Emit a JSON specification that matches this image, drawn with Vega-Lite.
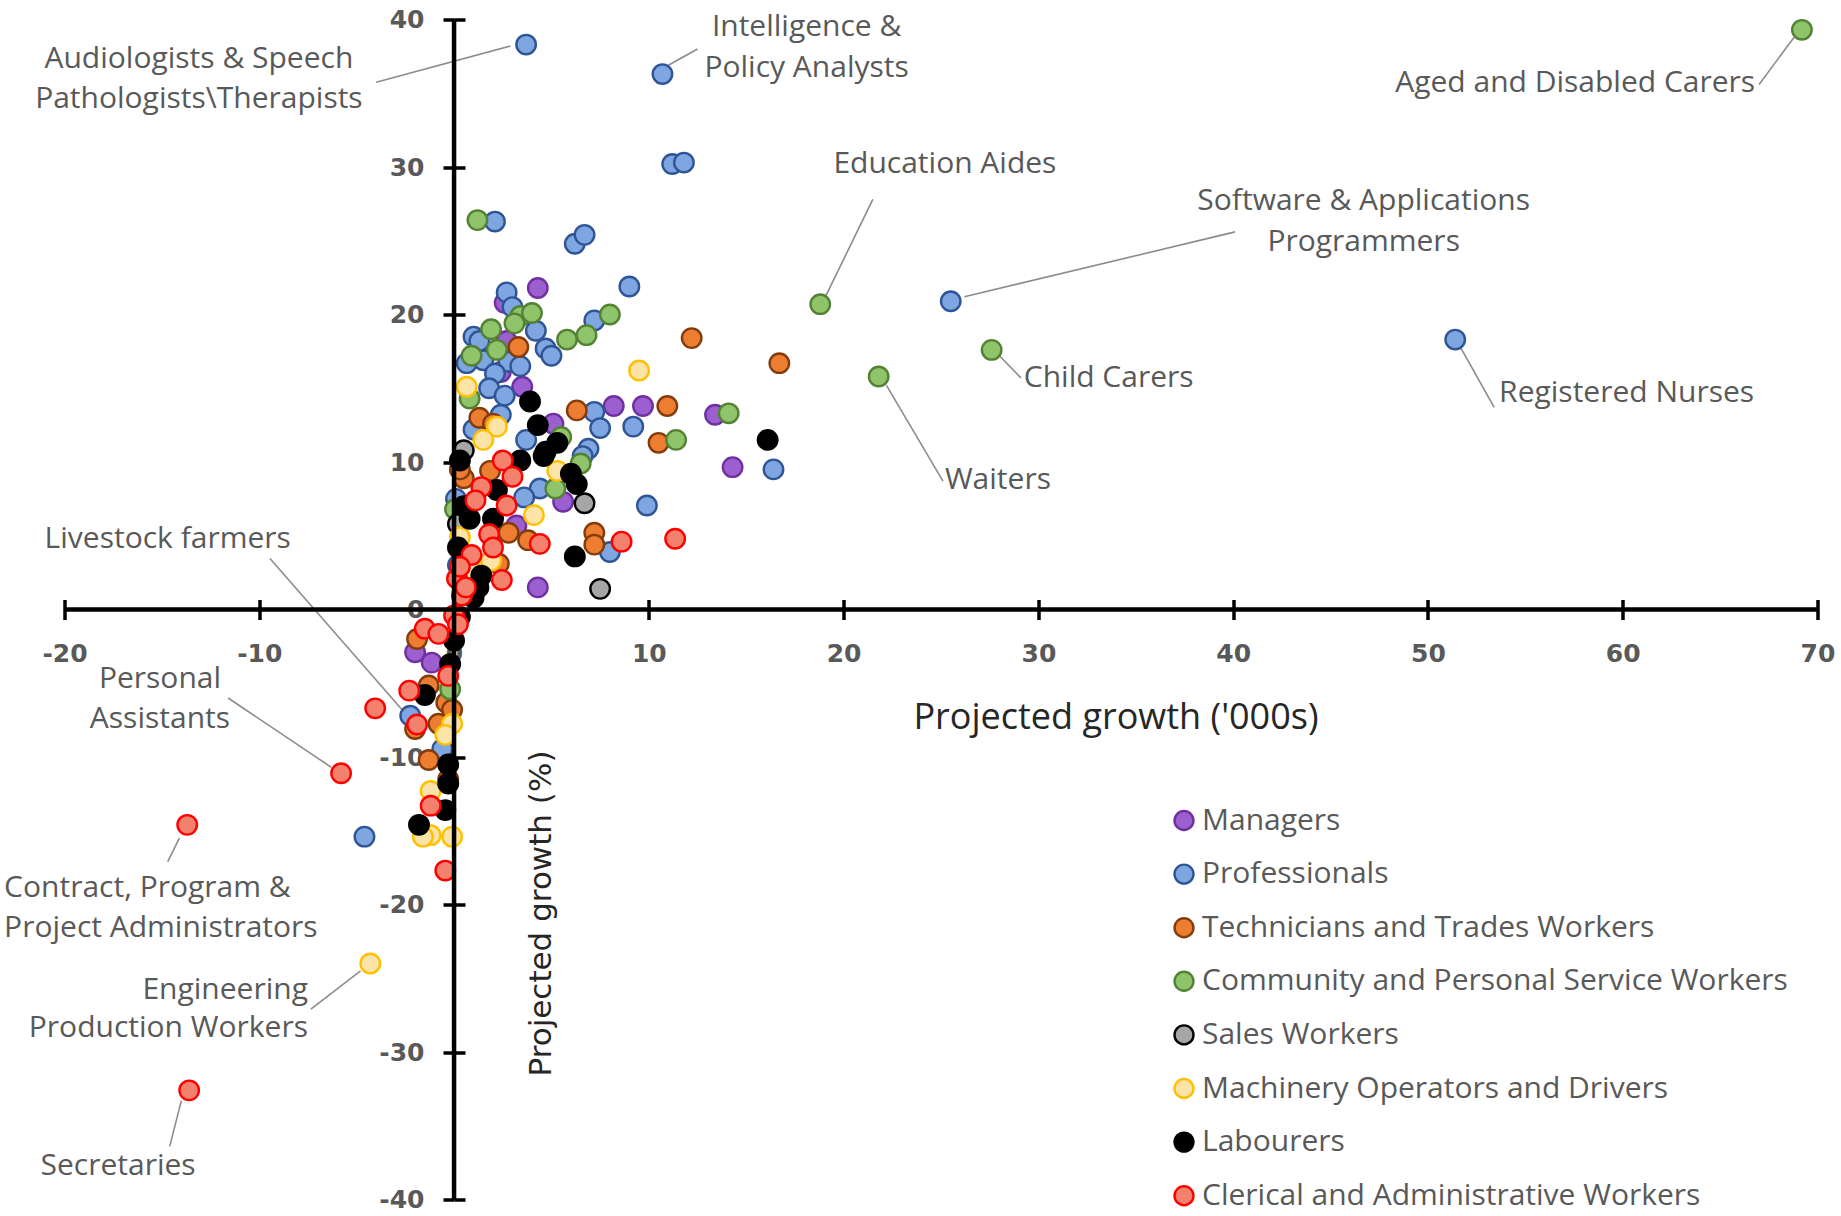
{
  "$schema": "https://vega.github.io/schema/vega-lite/v6.json",
  "width": 1753,
  "height": 1180,
  "autosize": {"type": "none"},
  "padding": {"left": 64.5, "top": 19.5, "right": 23.5, "bottom": 16.5},
  "background": "white",
  "config": {"view": {"stroke": null}},
  "datasets": {
    "points": [
      {"cat":"Managers","x":4.3,"y":21.8},{"cat":"Managers","x":2.6,"y":20.8},{"cat":"Managers","x":2.7,"y":18.2},{"cat":"Managers","x":3.5,"y":15.1},{"cat":"Managers","x":5.1,"y":12.6},{"cat":"Managers","x":8.2,"y":13.8},{"cat":"Managers","x":9.7,"y":13.8},{"cat":"Managers","x":13.4,"y":13.2},{"cat":"Managers","x":14.3,"y":9.65},{"cat":"Managers","x":5.6,"y":7.3},{"cat":"Managers","x":3.2,"y":5.7},{"cat":"Managers","x":4.3,"y":1.5},{"cat":"Managers","x":-2.0,"y":-2.9},{"cat":"Managers","x":-1.15,"y":-3.6},{"cat":"Managers","x":2.4,"y":16.1},
      {"cat":"Professionals","x":3.7,"y":38.3},{"cat":"Professionals","x":10.7,"y":36.3},{"cat":"Professionals","x":11.2,"y":30.2},{"cat":"Professionals","x":11.8,"y":30.3},{"cat":"Professionals","x":2.1,"y":26.3},{"cat":"Professionals","x":6.2,"y":24.8},{"cat":"Professionals","x":6.7,"y":25.4},{"cat":"Professionals","x":9.0,"y":21.9},{"cat":"Professionals","x":2.7,"y":21.5},{"cat":"Professionals","x":3.0,"y":20.5},{"cat":"Professionals","x":7.2,"y":19.6},{"cat":"Professionals","x":4.2,"y":18.9},{"cat":"Professionals","x":1.0,"y":18.5},{"cat":"Professionals","x":1.3,"y":18.2},{"cat":"Professionals","x":4.7,"y":17.7},{"cat":"Professionals","x":5.0,"y":17.2},{"cat":"Professionals","x":0.65,"y":16.7},{"cat":"Professionals","x":1.5,"y":16.9},{"cat":"Professionals","x":2.8,"y":16.8},{"cat":"Professionals","x":3.4,"y":16.5},{"cat":"Professionals","x":2.1,"y":16.0},{"cat":"Professionals","x":1.8,"y":15.0},{"cat":"Professionals","x":2.6,"y":14.5},{"cat":"Professionals","x":7.2,"y":13.4},{"cat":"Professionals","x":7.5,"y":12.3},{"cat":"Professionals","x":9.2,"y":12.4},{"cat":"Professionals","x":2.4,"y":13.2},{"cat":"Professionals","x":1.0,"y":12.2},{"cat":"Professionals","x":3.7,"y":11.5},{"cat":"Professionals","x":6.9,"y":10.9},{"cat":"Professionals","x":6.6,"y":10.4},{"cat":"Professionals","x":25.5,"y":20.9},{"cat":"Professionals","x":51.4,"y":18.3},{"cat":"Professionals","x":16.4,"y":9.5},{"cat":"Professionals","x":9.9,"y":7.05},{"cat":"Professionals","x":4.4,"y":8.2},{"cat":"Professionals","x":3.6,"y":7.6},{"cat":"Professionals","x":8.0,"y":3.9},{"cat":"Professionals","x":-2.25,"y":-7.2},{"cat":"Professionals","x":-4.6,"y":-15.4},{"cat":"Professionals","x":-0.6,"y":-9.45},{"cat":"Professionals","x":0.1,"y":7.5},{"cat":"Professionals","x":0.2,"y":3.0},
      {"cat":"Technicians and Trades Workers","x":3.3,"y":17.8},{"cat":"Technicians and Trades Workers","x":6.3,"y":13.5},{"cat":"Technicians and Trades Workers","x":10.95,"y":13.8},{"cat":"Technicians and Trades Workers","x":12.2,"y":18.4},{"cat":"Technicians and Trades Workers","x":16.7,"y":16.7},{"cat":"Technicians and Trades Workers","x":10.5,"y":11.3},{"cat":"Technicians and Trades Workers","x":1.3,"y":13.0},{"cat":"Technicians and Trades Workers","x":2.0,"y":12.6},{"cat":"Technicians and Trades Workers","x":0.5,"y":8.9},{"cat":"Technicians and Trades Workers","x":1.85,"y":9.4},{"cat":"Technicians and Trades Workers","x":2.8,"y":5.2},{"cat":"Technicians and Trades Workers","x":3.8,"y":4.7},{"cat":"Technicians and Trades Workers","x":7.2,"y":5.2},{"cat":"Technicians and Trades Workers","x":7.2,"y":4.4},{"cat":"Technicians and Trades Workers","x":2.3,"y":3.1},{"cat":"Technicians and Trades Workers","x":-1.9,"y":-2.0},{"cat":"Technicians and Trades Workers","x":-1.3,"y":-5.15},{"cat":"Technicians and Trades Workers","x":-0.4,"y":-6.3},{"cat":"Technicians and Trades Workers","x":-2.0,"y":-8.1},{"cat":"Technicians and Trades Workers","x":-0.8,"y":-7.75},{"cat":"Technicians and Trades Workers","x":-1.3,"y":-10.2},{"cat":"Technicians and Trades Workers","x":-0.1,"y":-6.8},{"cat":"Technicians and Trades Workers","x":0.3,"y":9.5},{"cat":"Technicians and Trades Workers","x":-0.3,"y":-11.5},
      {"cat":"Community and Personal Service Workers","x":69.2,"y":39.3},{"cat":"Community and Personal Service Workers","x":18.8,"y":20.7},{"cat":"Community and Personal Service Workers","x":27.6,"y":17.6},{"cat":"Community and Personal Service Workers","x":21.8,"y":15.8},{"cat":"Community and Personal Service Workers","x":1.2,"y":26.4},{"cat":"Community and Personal Service Workers","x":3.4,"y":19.9},{"cat":"Community and Personal Service Workers","x":4.0,"y":20.1},{"cat":"Community and Personal Service Workers","x":3.1,"y":19.4},{"cat":"Community and Personal Service Workers","x":8.0,"y":20.0},{"cat":"Community and Personal Service Workers","x":1.9,"y":19.0},{"cat":"Community and Personal Service Workers","x":5.8,"y":18.3},{"cat":"Community and Personal Service Workers","x":6.8,"y":18.6},{"cat":"Community and Personal Service Workers","x":2.2,"y":17.6},{"cat":"Community and Personal Service Workers","x":0.9,"y":17.2},{"cat":"Community and Personal Service Workers","x":0.8,"y":14.3},{"cat":"Community and Personal Service Workers","x":5.5,"y":11.7},{"cat":"Community and Personal Service Workers","x":14.1,"y":13.3},{"cat":"Community and Personal Service Workers","x":11.4,"y":11.5},{"cat":"Community and Personal Service Workers","x":6.5,"y":9.9},{"cat":"Community and Personal Service Workers","x":5.2,"y":8.2},{"cat":"Community and Personal Service Workers","x":0.05,"y":6.8},{"cat":"Community and Personal Service Workers","x":-0.2,"y":-5.4},
      {"cat":"Sales Workers","x":0.5,"y":10.8},{"cat":"Sales Workers","x":6.7,"y":7.2},{"cat":"Sales Workers","x":7.5,"y":1.4},{"cat":"Sales Workers","x":0.2,"y":5.8},
      {"cat":"Machinery Operators and Drivers","x":9.5,"y":16.2},{"cat":"Machinery Operators and Drivers","x":0.65,"y":15.1},{"cat":"Machinery Operators and Drivers","x":2.2,"y":12.4},{"cat":"Machinery Operators and Drivers","x":1.5,"y":11.5},{"cat":"Machinery Operators and Drivers","x":5.3,"y":9.4},{"cat":"Machinery Operators and Drivers","x":4.1,"y":6.4},{"cat":"Machinery Operators and Drivers","x":0.3,"y":4.9},{"cat":"Machinery Operators and Drivers","x":1.9,"y":3.3},{"cat":"Machinery Operators and Drivers","x":-0.1,"y":-7.75},{"cat":"Machinery Operators and Drivers","x":-0.45,"y":-8.5},{"cat":"Machinery Operators and Drivers","x":-1.2,"y":-12.3},{"cat":"Machinery Operators and Drivers","x":-1.2,"y":-15.3},{"cat":"Machinery Operators and Drivers","x":-0.1,"y":-15.4},{"cat":"Machinery Operators and Drivers","x":-1.6,"y":-15.4},{"cat":"Machinery Operators and Drivers","x":-4.3,"y":-24.0},{"cat":"Machinery Operators and Drivers","x":1.0,"y":2.5},
      {"cat":"Labourers","x":3.9,"y":14.1},{"cat":"Labourers","x":4.3,"y":12.5},{"cat":"Labourers","x":5.3,"y":11.3},{"cat":"Labourers","x":4.7,"y":10.7},{"cat":"Labourers","x":16.1,"y":11.5},{"cat":"Labourers","x":3.4,"y":10.1},{"cat":"Labourers","x":4.6,"y":10.4},{"cat":"Labourers","x":0.3,"y":10.1},{"cat":"Labourers","x":2.2,"y":8.1},{"cat":"Labourers","x":6.0,"y":9.2},{"cat":"Labourers","x":6.3,"y":8.5},{"cat":"Labourers","x":0.8,"y":6.15},{"cat":"Labourers","x":2.0,"y":6.15},{"cat":"Labourers","x":6.2,"y":3.6},{"cat":"Labourers","x":0.2,"y":4.2},{"cat":"Labourers","x":1.4,"y":2.3},{"cat":"Labourers","x":1.25,"y":1.5},{"cat":"Labourers","x":1.0,"y":0.8},{"cat":"Labourers","x":0.0,"y":-2.1},{"cat":"Labourers","x":-0.2,"y":-3.7},{"cat":"Labourers","x":-1.5,"y":-5.8},{"cat":"Labourers","x":-0.3,"y":-10.5},{"cat":"Labourers","x":-0.3,"y":-11.8},{"cat":"Labourers","x":-0.45,"y":-13.6},{"cat":"Labourers","x":-1.8,"y":-14.6},{"cat":"Labourers","x":0.5,"y":7.0},{"cat":"Labourers","x":0.3,"y":-0.5},
      {"cat":"Clerical and Administrative Workers","x":2.5,"y":10.1},{"cat":"Clerical and Administrative Workers","x":3.0,"y":9.0},{"cat":"Clerical and Administrative Workers","x":1.4,"y":8.3},{"cat":"Clerical and Administrative Workers","x":1.1,"y":7.4},{"cat":"Clerical and Administrative Workers","x":2.7,"y":7.05},{"cat":"Clerical and Administrative Workers","x":1.8,"y":5.1},{"cat":"Clerical and Administrative Workers","x":4.4,"y":4.45},{"cat":"Clerical and Administrative Workers","x":2.0,"y":4.2},{"cat":"Clerical and Administrative Workers","x":8.6,"y":4.6},{"cat":"Clerical and Administrative Workers","x":11.35,"y":4.8},{"cat":"Clerical and Administrative Workers","x":0.9,"y":3.7},{"cat":"Clerical and Administrative Workers","x":2.45,"y":2.0},{"cat":"Clerical and Administrative Workers","x":0.15,"y":2.1},{"cat":"Clerical and Administrative Workers","x":0.4,"y":0.95},{"cat":"Clerical and Administrative Workers","x":0.0,"y":-0.4},{"cat":"Clerical and Administrative Workers","x":0.3,"y":2.9},{"cat":"Clerical and Administrative Workers","x":-1.5,"y":-1.3},{"cat":"Clerical and Administrative Workers","x":-0.8,"y":-1.65},{"cat":"Clerical and Administrative Workers","x":-0.3,"y":-4.5},{"cat":"Clerical and Administrative Workers","x":-2.3,"y":-5.5},{"cat":"Clerical and Administrative Workers","x":-4.05,"y":-6.7},{"cat":"Clerical and Administrative Workers","x":-1.9,"y":-7.8},{"cat":"Clerical and Administrative Workers","x":-1.2,"y":-13.3},{"cat":"Clerical and Administrative Workers","x":-0.45,"y":-17.7},{"cat":"Clerical and Administrative Workers","x":-5.8,"y":-11.1},{"cat":"Clerical and Administrative Workers","x":-13.7,"y":-14.6},{"cat":"Clerical and Administrative Workers","x":-13.6,"y":-32.6},{"cat":"Clerical and Administrative Workers","x":0.2,"y":-1.0},{"cat":"Clerical and Administrative Workers","x":0.6,"y":1.5}
    ],
    "labels": [
      {"text":"Audiologists & Speech","x":-13.1,"y":37.3},
      {"text":"Pathologists\\Therapists","x":-13.1,"y":34.6},
      {"text":"Intelligence &","x":18.1,"y":39.5},
      {"text":"Policy Analysts","x":18.1,"y":36.7},
      {"text":"Aged and Disabled Carers","x":66.8,"y":35.7},
      {"text":"Education Aides","x":25.2,"y":30.2},
      {"text":"Software & Applications","x":46.7,"y":27.7},
      {"text":"Programmers","x":46.7,"y":24.9},
      {"text":"Child Carers","x":29.25,"y":15.7},
      {"text":"Registered Nurses","x":60.2,"y":14.7},
      {"text":"Waiters","x":25.2,"y":8.8},
      {"text":"Livestock farmers","x":-14.7,"y":4.8},
      {"text":"Personal","x":-15.1,"y":-4.7},
      {"text":"Assistants","x":-15.1,"y":-7.4},
      {"text":"Contract, Program &","x":-23.1,"y":-18.9},
      {"text":"Project Administrators","x":-23.1,"y":-21.6},
      {"text":"Engineering","x":-7.5,"y":-25.8},
      {"text":"Production Workers","x":-7.5,"y":-28.4},
      {"text":"Secretaries","x":-17.25,"y":-37.7}
    ],
    "leaders": [
      {"x":-4.0,"y":35.75,"x2":2.9,"y2":38.2},
      {"x":12.5,"y":38.0,"x2":11.0,"y2":36.9},
      {"x":21.5,"y":27.8,"x2":19.1,"y2":21.3},
      {"x":40.1,"y":25.6,"x2":26.2,"y2":21.2},
      {"x":28.0,"y":17.2,"x2":29.1,"y2":15.7},
      {"x":22.2,"y":15.2,"x2":25.1,"y2":8.7},
      {"x":51.7,"y":17.7,"x2":53.4,"y2":13.7},
      {"x":67.0,"y":35.6,"x2":68.8,"y2":38.8},
      {"x":-9.45,"y":3.46,"x2":-2.5,"y2":-7.05},
      {"x":-11.6,"y":-6.0,"x2":-6.3,"y2":-10.7},
      {"x":-14.7,"y":-17.1,"x2":-14.1,"y2":-15.5},
      {"x":-7.35,"y":-27.1,"x2":-4.8,"y2":-24.5},
      {"x":-14.6,"y":-36.4,"x2":-14.0,"y2":-33.3}
    ]
  },
  "layer": [
    {
      "data": {"name": "leaders"},
      "mark": {"type": "rule", "color": "#8c8c8c", "strokeWidth": 1.6},
      "encoding": {
        "x": {"field": "x", "type": "quantitative", "scale": {"domain": [-20, 70], "nice": false, "zero": false},
              "axis": {"orient": "top", "offset": -590, "values": [-20,-10,0,10,20,30,40,50,60,70], "domain": false, "grid": false, "labels": false, "title": null, "tickColor": "black", "tickWidth": 3.5, "tickSize": 10}},
        "y": {"field": "y", "type": "quantitative", "scale": {"domain": [-40, 40], "nice": false, "zero": false},
              "axis": {"orient": "right", "offset": -1363.5, "values": [-40,-30,-20,-10,0,10,20,30,40], "domain": false, "grid": false, "labels": false, "title": null, "tickColor": "black", "tickWidth": 3.5, "tickSize": 11}},
        "x2": {"field": "x2"},
        "y2": {"field": "y2"}
      }
    },
    {
      "data": {"name": "points"},
      "mark": {"type": "point", "shape": "circle", "filled": true, "size": 380, "strokeWidth": 2.4, "opacity": 1},
      "encoding": {
        "x": {"field": "x", "type": "quantitative", "scale": {"domain": [-20, 70], "nice": false, "zero": false},
              "axis": {"orient": "bottom", "offset": -590, "values": [-20,-10,0,10,20,30,40,50,60,70], "domain": false, "grid": false,
                       "tickColor": "black", "tickWidth": 3.5, "tickSize": 10,
                       "labelExpr": "datum.value < 0 ? '-' + abs(datum.value) : '' + datum.value",
                       "labelFont": "DejaVu Sans", "labelFontWeight": "bold", "labelFontSize": 25, "labelColor": "#595959", "labelPadding": 22, "labelFlush": false, "labelOverlap": false,
                       "title": "Projected growth ('000s)", "titleFont": "Open Sans", "titleFontSize": 36, "titleFontWeight": "normal", "titleColor": "#262626",
                       "titleX": 1051, "titleY": 108, "titleBaseline": "middle", "titleAlign": "center", "titleAnchor": null}},
        "y": {"field": "y", "type": "quantitative", "scale": {"domain": [-40, 40], "nice": false, "zero": false},
              "axis": {"orient": "left", "offset": -389.5, "values": [-40,-30,-20,-10,0,10,20,30,40], "domain": false, "grid": false,
                       "tickColor": "black", "tickWidth": 3.5, "tickSize": 11,
                       "labelExpr": "datum.value < 0 ? '-' + abs(datum.value) : '' + datum.value",
                       "labelFont": "DejaVu Sans", "labelFontWeight": "bold", "labelFontSize": 25, "labelColor": "#595959", "labelPadding": 19, "labelFlush": false, "labelOverlap": false,
                       "title": "Projected growth (%)", "titleFont": "DejaVu Sans", "titleFontSize": 31, "titleFontWeight": "normal", "titleColor": "#262626",
                       "titleX": 87, "titleY": 893.5, "titleAngle": -90, "titleBaseline": "middle", "titleAlign": "center", "titleAnchor": null}},
        "fill": {"field": "cat", "type": "nominal",
                 "scale": {"domain": ["Managers","Professionals","Technicians and Trades Workers","Community and Personal Service Workers","Sales Workers","Machinery Operators and Drivers","Labourers","Clerical and Administrative Workers"],
                           "range": ["#9b5fd0","#7ea6e0","#ed7d31","#8fc46a","#a6a6a6","#fce4a8","#000000","#f4806e"]},
                 "legend": {"orient": "none", "legendX": 1104.5, "legendY": 786, "title": null, "labelFont": "Open Sans", "labelFontSize": 30, "labelColor": "#595959", "symbolType": "circle", "symbolSize": 360, "symbolStrokeWidth": 2.4, "rowPadding": 23.6, "labelOffset": 3, "labelLimit": 800}},
        "stroke": {"field": "cat", "type": "nominal",
                   "scale": {"domain": ["Managers","Professionals","Technicians and Trades Workers","Community and Personal Service Workers","Sales Workers","Machinery Operators and Drivers","Labourers","Clerical and Administrative Workers"],
                             "range": ["#7030a0","#2f5597","#843c0c","#548235","#000000","#ffc000","#000000","#ff0000"]},
                   "legend": {"orient": "none", "legendX": 1104.5, "legendY": 786, "title": null, "labelFont": "Open Sans", "labelFontSize": 30, "labelColor": "#595959", "symbolType": "circle", "symbolSize": 360, "symbolStrokeWidth": 2.4, "rowPadding": 23.6, "labelOffset": 3, "labelLimit": 800}}
      }
    },
    {
      "data": {"values": [{}]},
      "mark": {"type": "rule", "color": "black", "strokeWidth": 4.5},
      "encoding": {"x": {"datum": 0, "type": "quantitative", "scale": {"domain": [-20, 70], "nice": false, "zero": false}, "axis": null}}
    },
    {
      "data": {"values": [{}]},
      "mark": {"type": "rule", "color": "black", "strokeWidth": 4.5},
      "encoding": {"y": {"datum": 0, "type": "quantitative", "scale": {"domain": [-40, 40], "nice": false, "zero": false}, "axis": null}}
    },
    {
      "data": {"name": "labels"},
      "transform": [{"filter": {"not": {"field": "text", "oneOf": ["Child Carers","Waiters","Contract, Program &","Project Administrators","Aged and Disabled Carers","Engineering","Production Workers"]}}}],
      "mark": {"type": "text", "font": "Open Sans", "fontSize": 30, "color": "#595959", "align": "center", "baseline": "middle"},
      "encoding": {
        "x": {"field": "x", "type": "quantitative", "scale": {"domain": [-20, 70], "nice": false, "zero": false}, "axis": null},
        "y": {"field": "y", "type": "quantitative", "scale": {"domain": [-40, 40], "nice": false, "zero": false}, "axis": null},
        "text": {"field": "text"}
      }
    },
    {
      "data": {"name": "labels"},
      "transform": [{"filter": {"field": "text", "oneOf": ["Child Carers","Waiters","Contract, Program &","Project Administrators"]}}],
      "mark": {"type": "text", "font": "Open Sans", "fontSize": 30, "color": "#595959", "align": "left", "baseline": "middle"},
      "encoding": {
        "x": {"field": "x", "type": "quantitative", "scale": {"domain": [-20, 70], "nice": false, "zero": false}, "axis": null},
        "y": {"field": "y", "type": "quantitative", "scale": {"domain": [-40, 40], "nice": false, "zero": false}, "axis": null},
        "text": {"field": "text"}
      }
    },
    {
      "data": {"name": "labels"},
      "transform": [{"filter": {"field": "text", "oneOf": ["Aged and Disabled Carers","Engineering","Production Workers"]}}],
      "mark": {"type": "text", "font": "Open Sans", "fontSize": 30, "color": "#595959", "align": "right", "baseline": "middle"},
      "encoding": {
        "x": {"field": "x", "type": "quantitative", "scale": {"domain": [-20, 70], "nice": false, "zero": false}, "axis": null},
        "y": {"field": "y", "type": "quantitative", "scale": {"domain": [-40, 40], "nice": false, "zero": false}, "axis": null},
        "text": {"field": "text"}
      }
    }
  ]
}
